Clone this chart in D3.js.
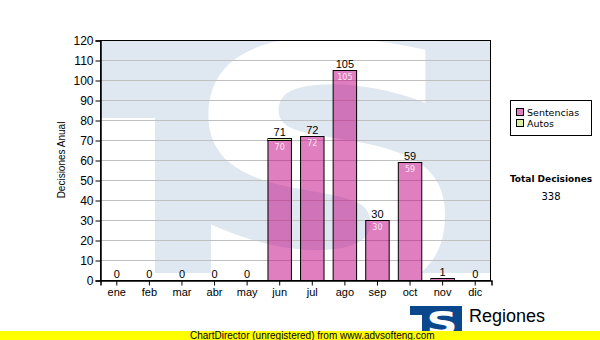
<!DOCTYPE html>
<html>
<head>
<meta charset="utf-8">
<script src="https://cdn.jsdelivr.net/npm/d3@7"></script>
<style>
  body { margin: 0; background: #fff; }
  svg { display: block; }
</style>
</head>
<body>
<script>
var meses = ["ene", "feb", "mar", "abr", "may", "jun", "jul", "ago", "sep", "oct", "nov", "dic"];
var sentencias = [0, 0, 0, 0, 0, 70, 72, 105, 30, 59, 1, 0];
var autos = [0, 0, 0, 0, 0, 1, 0, 0, 0, 0, 0, 0];
var yTicks = [0, 10, 20, 30, 40, 50, 60, 70, 80, 90, 100, 110, 120];
var series = ["Sentencias", "Autos"];

var W = 600, H = 340;
// plot box (note: "top" is reserved on window, so use pTop etc.)
var pLeft = 100, pTop = 40, pRight = 491, pBottom = 280;

var svg = d3.select("body").append("svg")
    .attr("width", W)
    .attr("height", H);

var x = d3.scaleBand()
    .domain(meses)
    .range([pLeft, pRight])
    .paddingInner(0.28)
    .paddingOuter(0.14);

var y = d3.scaleLinear()
    .domain([0, 120])
    .range([pBottom, pTop]);

var colSent = "rgba(192,0,128,0.5)";
var colAutos = "rgba(176,224,64,0.5)";

// watermark logo inside plot
svg.append("defs").append("clipPath")
    .attr("id", "clip")
    .append("rect")
    .attr("x", pLeft).attr("y", pTop)
    .attr("width", pRight - pLeft).attr("height", pBottom - pTop);

var wm = svg.append("g").attr("clip-path", "url(#clip)");
wm.append("polygon")
    .attr("points", [[pLeft, pTop], [pRight, pTop], [pRight, 273], [155, 273], [155, 118], [pLeft, 118]].join(" "))
    .attr("fill", "#dfe8f1");
wm.append("text")
    .attr("transform", "translate(327,292) scale(1.2,1)")
    .attr("text-anchor", "middle")
    .style("font-family", "DejaVu Sans")
    .style("font-weight", "bold")
    .style("font-size", "343px")
    .attr("fill", "#fff")
    .text("S");

// grid
svg.append("g")
    .selectAll("line")
    .data(yTicks.slice(1))
    .enter().append("line")
    .attr("x1", pLeft).attr("x2", pRight)
    .attr("y1", d => y(d) + 0.5).attr("y2", d => y(d) + 0.5)
    .attr("stroke", "#c0c0c0");

// bars
var stacks = meses.map((m, i) => ({ mes: m, s: sentencias[i], a: autos[i], total: sentencias[i] + autos[i] }));
var bw = x.bandwidth();

var bars = svg.append("g");
stacks.forEach(function(d) {
    if (d.s > 0) {
        bars.append("rect")
            .attr("x", x(d.mes) + 0.5)
            .attr("y", y(d.s) + 0.5)
            .attr("width", bw)
            .attr("height", y(0) - y(d.s))
            .attr("fill", colSent)
            .attr("stroke", "#000");
    }
    if (d.a > 0) {
        bars.append("rect")
            .attr("x", x(d.mes) + 0.5)
            .attr("y", y(d.total) + 0.5)
            .attr("width", bw)
            .attr("height", y(d.s) - y(d.total))
            .attr("fill", colAutos)
            .attr("stroke", "#000");
    }
});

// inside labels
svg.append("g")
    .selectAll("text")
    .data(stacks.filter(d => y(0) - y(d.s) > 14))
    .enter().append("text")
    .attr("x", d => x(d.mes) + bw / 2 + 0.5)
    .attr("y", d => y(d.s) + 10)
    .attr("text-anchor", "middle")
    .style("font-family", "DejaVu Sans")
    .style("font-size", "8px")
    .attr("fill", "#fbe6f4")
    .text(d => d.s);

// total labels
svg.append("g")
    .selectAll("text")
    .data(stacks)
    .enter().append("text")
    .attr("x", d => x(d.mes) + bw / 2 + 0.5)
    .attr("y", d => y(d.total) - 2)
    .attr("text-anchor", "middle")
    .style("font-family", "Liberation Sans")
    .style("font-size", "11px")
    .attr("fill", "#000")
    .text(d => d.total);

// plot frame
svg.append("rect")
    .attr("x", pLeft + 0.5).attr("y", pTop + 0.5)
    .attr("width", pRight - pLeft - 1).attr("height", pBottom - pTop)
    .attr("fill", "none")
    .attr("stroke", "#000");

// axes
var yAxis = svg.append("g")
    .attr("transform", "translate(" + (pLeft + 0.5) + ",0.5)")
    .call(d3.axisLeft(y).tickValues(yTicks).tickSize(5).tickPadding(2));
var xAxis = svg.append("g")
    .attr("transform", "translate(0.5," + (pBottom + 0.5) + ")")
    .call(d3.axisBottom(x).tickSize(5).tickPadding(3));

[yAxis, xAxis].forEach(function(a) {
    a.select(".domain").attr("stroke", "#000").attr("stroke-width", 1.5);
    a.selectAll(".tick line").attr("stroke", "#000");
    a.selectAll(".tick text")
        .style("font-family", "Liberation Sans")
        .style("font-size", "11px")
        .attr("fill", "#000");
});
yAxis.selectAll(".tick text").style("font-size", "12px");

svg.append("text")
    .attr("transform", "translate(65,160) rotate(-90)")
    .attr("text-anchor", "middle")
    .style("font-family", "Liberation Sans")
    .style("font-size", "10px")
    .text("Decisiones Anual");

// legend
var lg = svg.append("g");
lg.append("rect")
    .attr("x", 510.5).attr("y", 100.5)
    .attr("width", 81).attr("height", 35)
    .attr("fill", "#fff")
    .attr("stroke", "#000");
var lgCols = [colSent, colAutos];
series.forEach(function(s, i) {
    lg.append("rect")
        .attr("x", 516.5).attr("y", 108.5 + i * 11)
        .attr("width", 7).attr("height", 7)
        .attr("fill", lgCols[i])
        .attr("stroke", "#000");
    lg.append("text")
        .attr("x", 527).attr("y", 116 + i * 11)
        .style("font-family", "DejaVu Sans")
        .style("font-size", "9.5px")
        .text(s);
});

svg.append("text")
    .attr("x", 551).attr("y", 182)
    .attr("text-anchor", "middle")
    .style("font-family", "DejaVu Sans")
    .style("font-weight", "bold")
    .style("font-size", "9px")
    .text("Total Decisiones");
svg.append("text")
    .attr("x", 551).attr("y", 200)
    .attr("text-anchor", "middle")
    .style("font-family", "DejaVu Sans")
    .style("font-size", "10px")
    .text(d3.sum(sentencias) + d3.sum(autos));

// bottom logo
svg.append("polygon")
    .attr("points", [[410, 306], [462, 306], [462, 331], [422, 331], [422, 315], [410, 315]].join(" "))
    .attr("fill", "#0b478c");
svg.append("text")
    .attr("transform", "translate(442,334) scale(1.35,1)")
    .attr("text-anchor", "middle")
    .style("font-family", "DejaVu Sans")
    .style("font-weight", "bold")
    .style("font-size", "32px")
    .attr("fill", "#fff")
    .text("S");
svg.append("text")
    .attr("x", 469).attr("y", 322)
    .style("font-family", "Liberation Sans")
    .style("font-size", "18px")
    .text("Regiones");
svg.append("text")
    .attr("x", 469).attr("y", 339)
    .style("font-family", "Liberation Sans")
    .style("font-size", "11px")
    .text("Tribunal Supremo de Justicia");

// footer
svg.append("rect")
    .attr("x", 0).attr("y", 331)
    .attr("width", W).attr("height", 9)
    .attr("fill", "#ffff00");
svg.append("text")
    .attr("x", 190).attr("y", 339)
    .style("font-family", "Liberation Sans")
    .style("font-size", "10px")
    .text("ChartDirector (unregistered) from www.advsofteng.com");
</script>
</body>
</html>
